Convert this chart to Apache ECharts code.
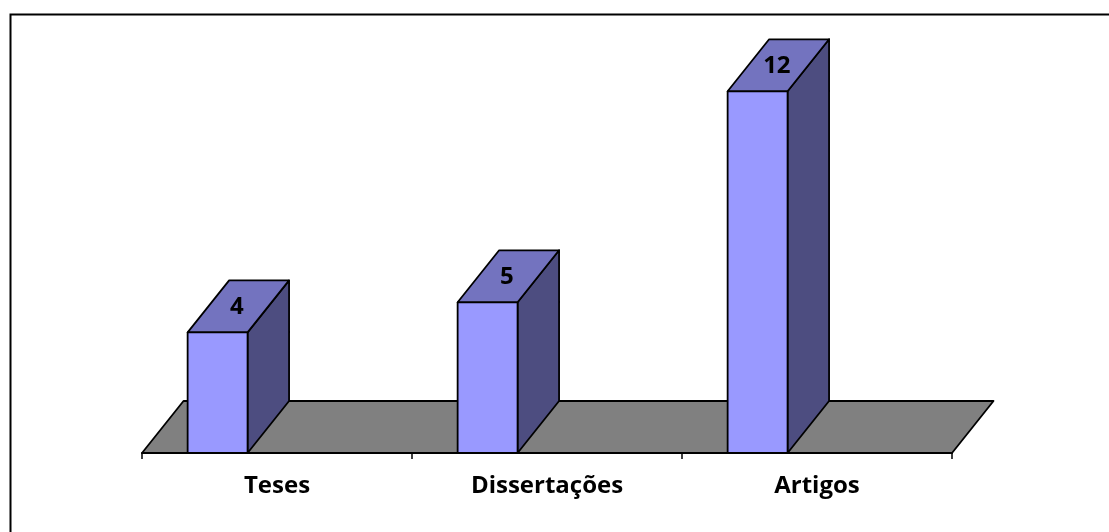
<!DOCTYPE html>
<html>
<head>
<meta charset="utf-8">
<style>
  html, body { margin: 0; padding: 0; background: #ffffff; }
  #chart { width: 1109px; height: 532px; }
</style>
<script src="https://cdn.jsdelivr.net/npm/echarts@6/dist/echarts.min.js"></script>
</head>
<body>
<div id="chart"></div>
<script>
// Publication counts by type
const categories = ['Teses', 'Dissertações', 'Artigos'];
const counts = [4, 5, 12];

// Pseudo-3D projection: how far the back edge sits from the front edge
const DEPTH_X = 41.5;
const DEPTH_Y = -52;
// Bar front face, as fractions of one category band
const BAR_OFFSET = -0.331;
const BAR_WIDTH = 0.222;

const FONT = '"Open Sans", "Noto Sans", sans-serif';
const EDGE = { stroke: '#000000', lineWidth: 1.8, lineJoin: 'round' };

function renderFloor(params, api) {
  const cs = params.coordSys;
  const yb = cs.y + cs.height;
  return {
    type: 'polygon',
    shape: {
      points: [
        [cs.x, yb],
        [cs.x + cs.width, yb],
        [cs.x + cs.width + DEPTH_X, yb + DEPTH_Y],
        [cs.x + DEPTH_X, yb + DEPTH_Y]
      ]
    },
    style: Object.assign({ fill: '#808080' }, EDGE)
  };
}

function renderBar(params, api) {
  const idx = api.value(0);
  const val = api.value(1);
  const base = api.coord([idx, 0]);
  const top = api.coord([idx, val]);
  const band = api.size([1, 0])[0];
  const x0 = base[0] + BAR_OFFSET * band;
  const w = BAR_WIDTH * band;
  const x1 = x0 + w;
  const yt = top[1];
  const yb = base[1];
  return {
    type: 'group',
    children: [
      {
        type: 'polygon',
        shape: { points: [[x1, yt], [x1 + DEPTH_X, yt + DEPTH_Y], [x1 + DEPTH_X, yb + DEPTH_Y], [x1, yb]] },
        style: Object.assign({ fill: '#4d4d80' }, EDGE)
      },
      {
        type: 'polygon',
        shape: { points: [[x0, yt], [x1, yt], [x1 + DEPTH_X, yt + DEPTH_Y], [x0 + DEPTH_X, yt + DEPTH_Y]] },
        style: Object.assign({ fill: '#7373bf' }, EDGE)
      },
      {
        type: 'rect',
        shape: { x: x0, y: yt, width: w, height: yb - yt },
        style: Object.assign({ fill: '#9999ff' }, EDGE)
      },
      {
        type: 'text',
        x: x0 + w / 2 + DEPTH_X / 2 - 1.5,
        y: yt + DEPTH_Y / 2 + 1,
        style: {
          text: String(val),
          font: 'bold 24px ' + FONT,
          fill: '#000000',
          align: 'center',
          verticalAlign: 'middle'
        }
      }
    ]
  };
}

const chart = echarts.init(document.getElementById('chart'), null, { renderer: 'canvas' });
chart.setOption({
  backgroundColor: '#ffffff',
  animation: false,
  grid: { left: 142, right: 157, top: 31, bottom: 79 },
  xAxis: {
    type: 'category',
    data: categories,
    boundaryGap: true,
    axisLine: { show: true, lineStyle: { color: '#000000', width: 1.8 } },
    axisTick: { show: true, length: 6, lineStyle: { color: '#000000', width: 1.5 } },
    axisLabel: {
      margin: 21,
      fontSize: 24,
      fontWeight: 'bold',
      fontFamily: FONT,
      color: '#000000'
    },
    splitLine: { show: false }
  },
  yAxis: { type: 'value', min: 0, max: 14, show: false },
  graphic: [
    {
      type: 'rect',
      shape: { x: 10.5, y: 14.5, width: 1200, height: 600 },
      style: { fill: 'none', stroke: '#000000', lineWidth: 2 },
      silent: true
    }
  ],
  series: [
    {
      type: 'custom',
      name: 'floor',
      renderItem: renderFloor,
      data: [[0]],
      clip: false,
      z: 1
    },
    {
      type: 'custom',
      name: 'counts',
      renderItem: renderBar,
      data: counts.map((v, i) => [i, v]),
      encode: { x: 0, y: 1 },
      clip: false,
      z: 2
    }
  ]
});
</script>
</body>
</html>
